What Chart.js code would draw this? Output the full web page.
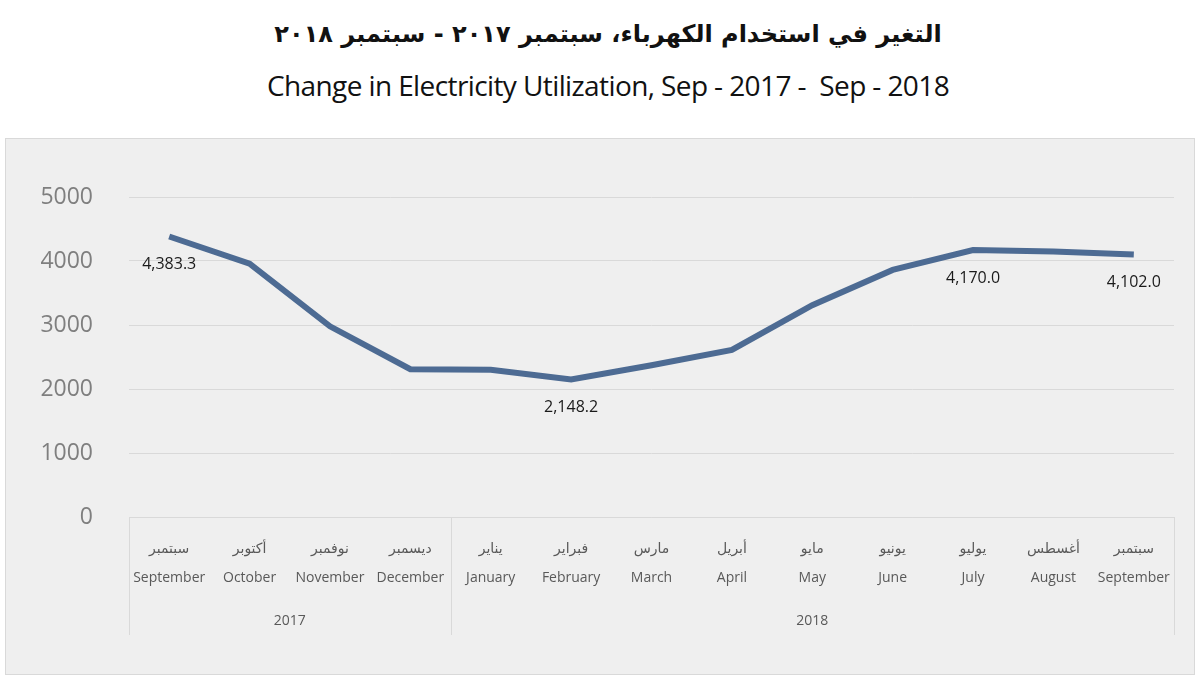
<!DOCTYPE html>
<html>
<head>
<meta charset="utf-8">
<script src="https://cdn.jsdelivr.net/npm/chart.js@4"></script>
<style>
  body { margin: 0; background: #fff; width: 1200px; height: 678px; position: relative; overflow: hidden; }
  .title-ar { position: absolute; left: 0; width: 1216px; top: 20px; text-align: center; direction: rtl;
    font-family: "DejaVu Sans", sans-serif; font-size: 24px; font-weight: bold; color: #111; }
  .title-en { position: absolute; left: 0; width: 1216px; top: 66px; text-align: center;
    font-family: "Open Sans", sans-serif; font-size: 28px; color: #111; letter-spacing: -0.6px; }
  .box { position: absolute; left: 5px; top: 138px; width: 1188px; height: 535px;
    background: #efefef; border: 1px solid #d9d9d9; }
  canvas { position: absolute; left: 0; top: 0; }
</style>
</head>
<body>
<div class="title-ar">التغير في استخدام الكهرباء، سبتمبر ٢٠١٧ - سبتمبر ٢٠١٨</div>
<div class="title-en">Change in Electricity Utilization, Sep - 2017 -&nbsp; Sep - 2018</div>
<div class="box"><canvas id="chart" width="1188" height="535"></canvas></div>
<script>
// الأشهر (عربي / إنجليزي)
const monthsAr = ["سبتمبر", "أكتوبر", "نوفمبر", "ديسمبر", "يناير", "فبراير", "مارس", "أبريل", "مايو", "يونيو", "يوليو", "أغسطس", "سبتمبر"];
const monthsEn = ["September", "October", "November", "December", "January", "February", "March", "April", "May", "June", "July", "August", "September"];
const years = ["2017", "2018"];
const yearCounts = [4, 9];
const usage = [4383.3, 3960, 2980, 2310, 2300, 2148.2, 2370, 2610, 3310, 3860, 4170.0, 4150, 4102.0];
const labelled = [0, 5, 10, 12];
const yTicks = [0, 1000, 2000, 3000, 4000, 5000];

const gridColor = "#d9d9d9";

// vẽ khung nhãn trục X, năm và nhãn giá trị
const extras = {
  id: "extras",
  afterDraw(chart) {
    const { ctx, chartArea, scales } = chart;
    const x = scales.x;
    const top = chartArea.bottom;
    const bottom = top + 118;
    const half = (x.getPixelForValue(1) - x.getPixelForValue(0)) / 2;
    ctx.save();
    ctx.strokeStyle = gridColor;
    ctx.lineWidth = 1;
    ctx.beginPath();
    ctx.moveTo(chartArea.left, top + 0.5);
    ctx.lineTo(chartArea.right, top + 0.5);
    let idx = 0;
    const bounds = [0];
    yearCounts.forEach(c => { idx += c; bounds.push(idx); });
    bounds.forEach(b => {
      const px = Math.round(x.getPixelForValue(b) - half) + 0.5;
      ctx.moveTo(px, top);
      ctx.lineTo(px, bottom);
    });
    ctx.stroke();

    ctx.fillStyle = "#595959";
    ctx.font = "14px 'Open Sans', sans-serif";
    ctx.textAlign = "center";
    ctx.textBaseline = "middle";
    years.forEach((yr, i) => {
      const a = x.getPixelForValue(bounds[i]);
      const b = x.getPixelForValue(bounds[i + 1] - 1);
      ctx.fillText(yr, (a + b) / 2, top + 104);
    });

    const meta = chart.getDatasetMeta(0);
    ctx.fillStyle = "#1a1a1a";
    ctx.font = "16px 'Open Sans', sans-serif";
    labelled.forEach(i => {
      const p = meta.data[i];
      const txt = usage[i].toLocaleString("en-US", { minimumFractionDigits: 1, maximumFractionDigits: 1 });
      ctx.fillText(txt, p.x, p.y + 28);
    });
    ctx.restore();
  }
};

new Chart(document.getElementById("chart"), {
  type: "line",
  data: {
    labels: monthsAr.map((m, i) => [m, monthsEn[i]]),
    datasets: [{
      data: usage,
      borderColor: "#4d6b93",
      borderWidth: 6,
      pointRadius: 0,
      tension: 0,
      fill: false
    }]
  },
  options: {
    responsive: false,
    animation: false,
    layout: { padding: { top: 58, right: 20, left: 0, bottom: 0 } },
    plugins: { legend: { display: false }, tooltip: { enabled: false } },
    scales: {
      x: {
        offset: true,
        grid: { display: false },
        border: { display: false },
        ticks: {
          color: "#595959",
          padding: 10,
          maxRotation: 0,
          autoSkip: false,
          font: { family: "'Open Sans', 'DejaVu Sans', sans-serif", size: 14, lineHeight: 2.07 }
        },
        afterFit: s => { s.height = 157; }
      },
      y: {
        min: 0,
        max: 5000,
        afterBuildTicks: s => { s.ticks = yTicks.map(v => ({ value: v })); },
        grid: { color: gridColor, drawTicks: false },
        border: { display: false },
        ticks: {
          color: "#7f7f7f",
          padding: 36,
          callback: v => String(v),
          font: { family: "'Open Sans', sans-serif", size: 23 }
        },
        afterFit: s => { s.width = 123; }
      }
    }
  },
  plugins: [extras]
});
</script>
</body>
</html>
